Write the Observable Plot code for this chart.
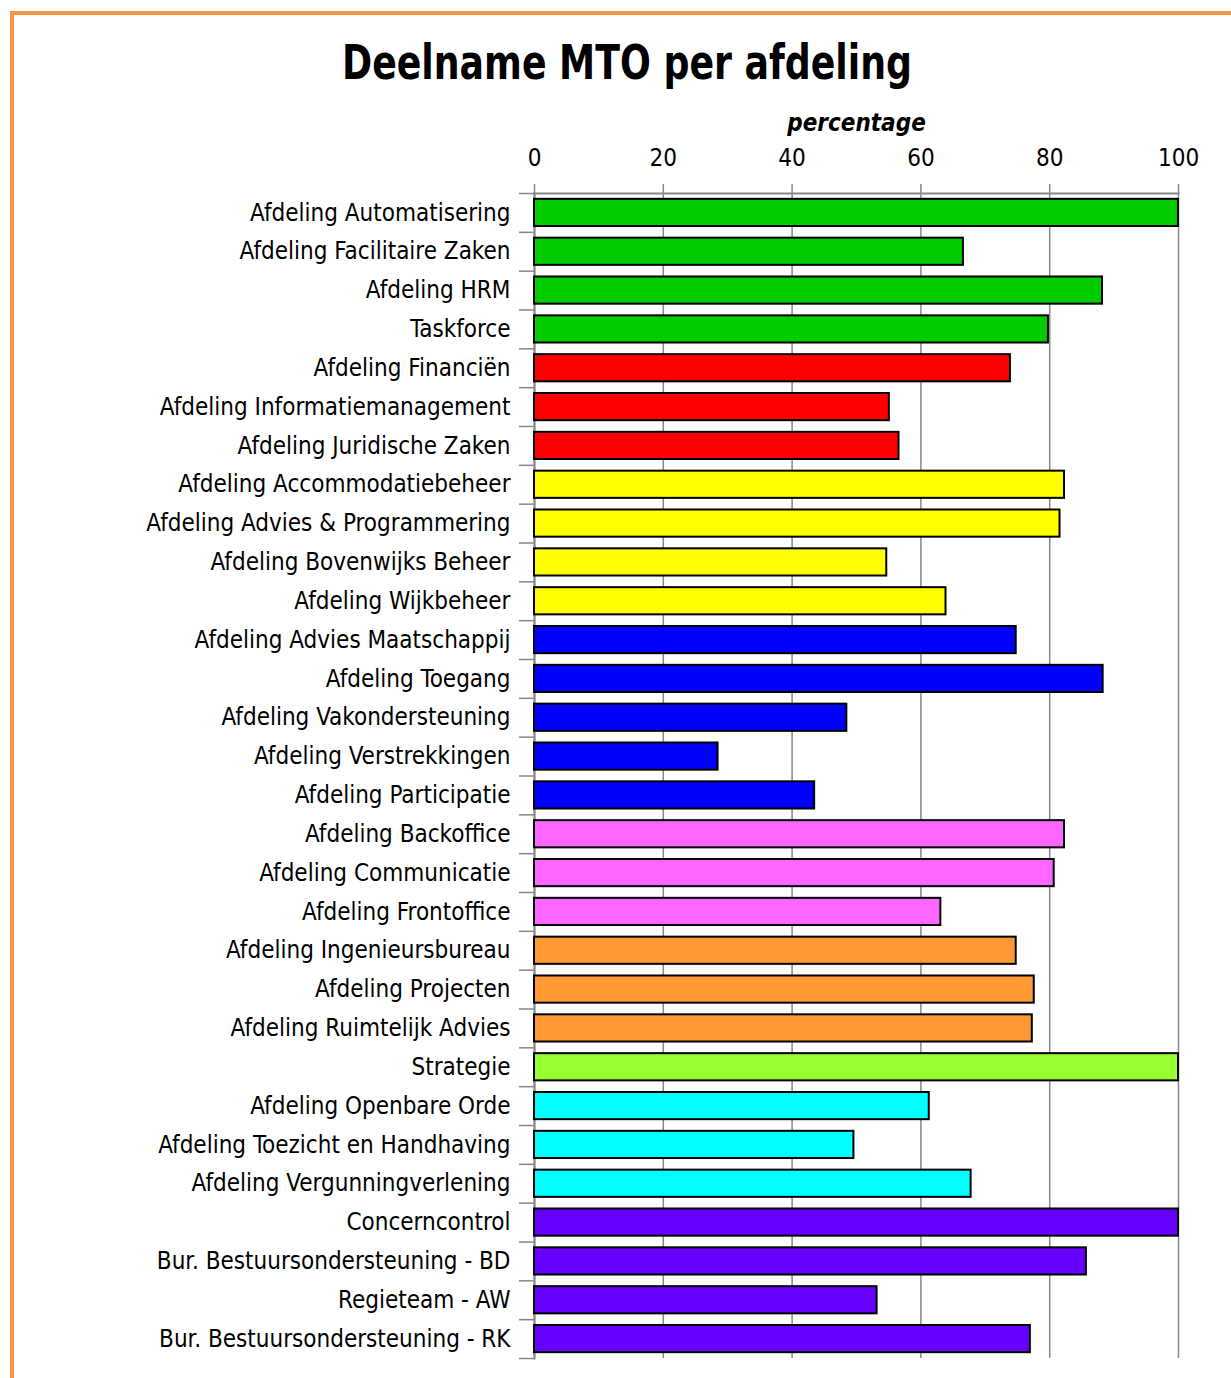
<!DOCTYPE html>
<html>
<head>
<meta charset="utf-8">
<script src="https://cdn.jsdelivr.net/npm/d3@7"></script>
<script src="https://cdn.jsdelivr.net/npm/@observablehq/plot@0.6"></script>
<style>
  html, body { margin: 0; padding: 0; background: #fff; }
  #wrap { position: relative; width: 1231px; height: 1378px; overflow: hidden; }
  #border { position: absolute; left: 10px; top: 11px; width: 1400px; height: 1500px;
            border-left: 4px solid #F79646; border-top: 4px solid #F79646; }
  #title { position: absolute; left: 0; top: 34px; width: 1254px; text-align: center;
           font-family: "DejaVu Sans Condensed", "DejaVu Sans", sans-serif;
           font-weight: bold; font-size: 48px; line-height: 56px; color: #000;
           transform: scaleX(0.84); transform-origin: 627px 0; }
  #chart { position: absolute; left: 0; top: 0; }
  #chart svg { display: block; }
</style>
</head>
<body>
<div id="wrap">
  <div id="border"></div>
  <div id="chart"></div>
  <div id="title">Deelname MTO per afdeling</div>
</div>
<script>
const categories = [
  "Afdeling Automatisering",
  "Afdeling Facilitaire Zaken",
  "Afdeling HRM",
  "Taskforce",
  "Afdeling Financiën",
  "Afdeling Informatiemanagement",
  "Afdeling Juridische Zaken",
  "Afdeling Accommodatiebeheer",
  "Afdeling Advies & Programmering",
  "Afdeling Bovenwijks Beheer",
  "Afdeling Wijkbeheer",
  "Afdeling Advies Maatschappij",
  "Afdeling Toegang",
  "Afdeling Vakondersteuning",
  "Afdeling Verstrekkingen",
  "Afdeling Participatie",
  "Afdeling Backoffice",
  "Afdeling Communicatie",
  "Afdeling Frontoffice",
  "Afdeling Ingenieursbureau",
  "Afdeling Projecten",
  "Afdeling Ruimtelijk Advies",
  "Strategie",
  "Afdeling Openbare Orde",
  "Afdeling Toezicht en Handhaving",
  "Afdeling Vergunningverlening",
  "Concerncontrol",
  "Bur. Bestuursondersteuning - BD",
  "Regieteam - AW",
  "Bur. Bestuursondersteuning - RK"
];
const values = [
  100, 66.6, 88.2, 79.8,
  73.9, 55.1, 56.6,
  82.3, 81.6, 54.7, 63.9,
  74.8, 88.3, 48.5, 28.5, 43.5,
  82.3, 80.7, 63.1,
  74.8, 77.6, 77.3,
  100,
  61.3, 49.6, 67.8,
  100, 85.7, 53.2, 77.0
];
const groups = [
  0, 0, 0, 0,
  1, 1, 1,
  2, 2, 2, 2,
  3, 3, 3, 3, 3,
  4, 4, 4,
  5, 5, 5,
  6,
  7, 7, 7,
  8, 8, 8, 8
];
const groupColors = ["#00CC00", "#FF0000", "#FFFF00", "#0000FF", "#FF66FF", "#FF9933", "#99FF33", "#00FFFF", "#6600FF"];
const xTicks = [0, 20, 40, 60, 80, 100];
const axisTitle = "percentage";

const data = categories.map((name, i) => ({name, value: values[i], color: groupColors[groups[i]]}));

const W = 1231, H = 1378;
const mT = 193, mB = 20, mL = 534, mR = 53;
const step = (H - mT - mB) / categories.length;
const font = '"DejaVu Sans Condensed", "DejaVu Sans", sans-serif';

const chart = Plot.plot({
  width: W,
  height: H,
  marginTop: mT,
  marginBottom: mB,
  marginLeft: mL,
  marginRight: mR,
  style: {fontFamily: font, fontSize: "24px", background: "transparent", color: "#000"},
  x: {domain: [0, 100], axis: null},
  y: {domain: categories, paddingInner: 0.3, paddingOuter: 0.15, round: false, axis: null},
  marks: [
    Plot.gridX(xTicks, {stroke: "#888", strokeOpacity: 1, strokeWidth: 1.5}),
    Plot.frame({anchor: "top", stroke: "#888", strokeWidth: 2}),
    Plot.frame({anchor: "left", stroke: "#888", strokeWidth: 2}),
    Plot.axisX({anchor: "top", ticks: xTicks, tickSize: 10, tickPadding: 18, stroke: "#888", strokeWidth: 1.5, label: null, fontSize: 24}),
    Plot.text([axisTitle], {frameAnchor: "top", dy: -80, text: d => d, fontWeight: "bold", fontStyle: "italic", fontSize: 24}),
    Plot.axisY({anchor: "left", tickSize: 0, tickPadding: 24, label: null, fontSize: 24, textAnchor: "end"}),
    Plot.axisY({anchor: "left", tickSize: 15, tickFormat: () => "", label: null, stroke: "#888", strokeWidth: 1.5, dy: -step / 2}),
    Plot.axisY({anchor: "left", ticks: [categories[categories.length - 1]], tickSize: 15, tickFormat: () => "", label: null, stroke: "#888", strokeWidth: 1.5, dy: step / 2}),
    Plot.barX(data, {x: "value", y: "name", fill: "color", stroke: "#000", strokeWidth: 2})
  ]
});
document.getElementById("chart").appendChild(chart);
</script>
</body>
</html>
